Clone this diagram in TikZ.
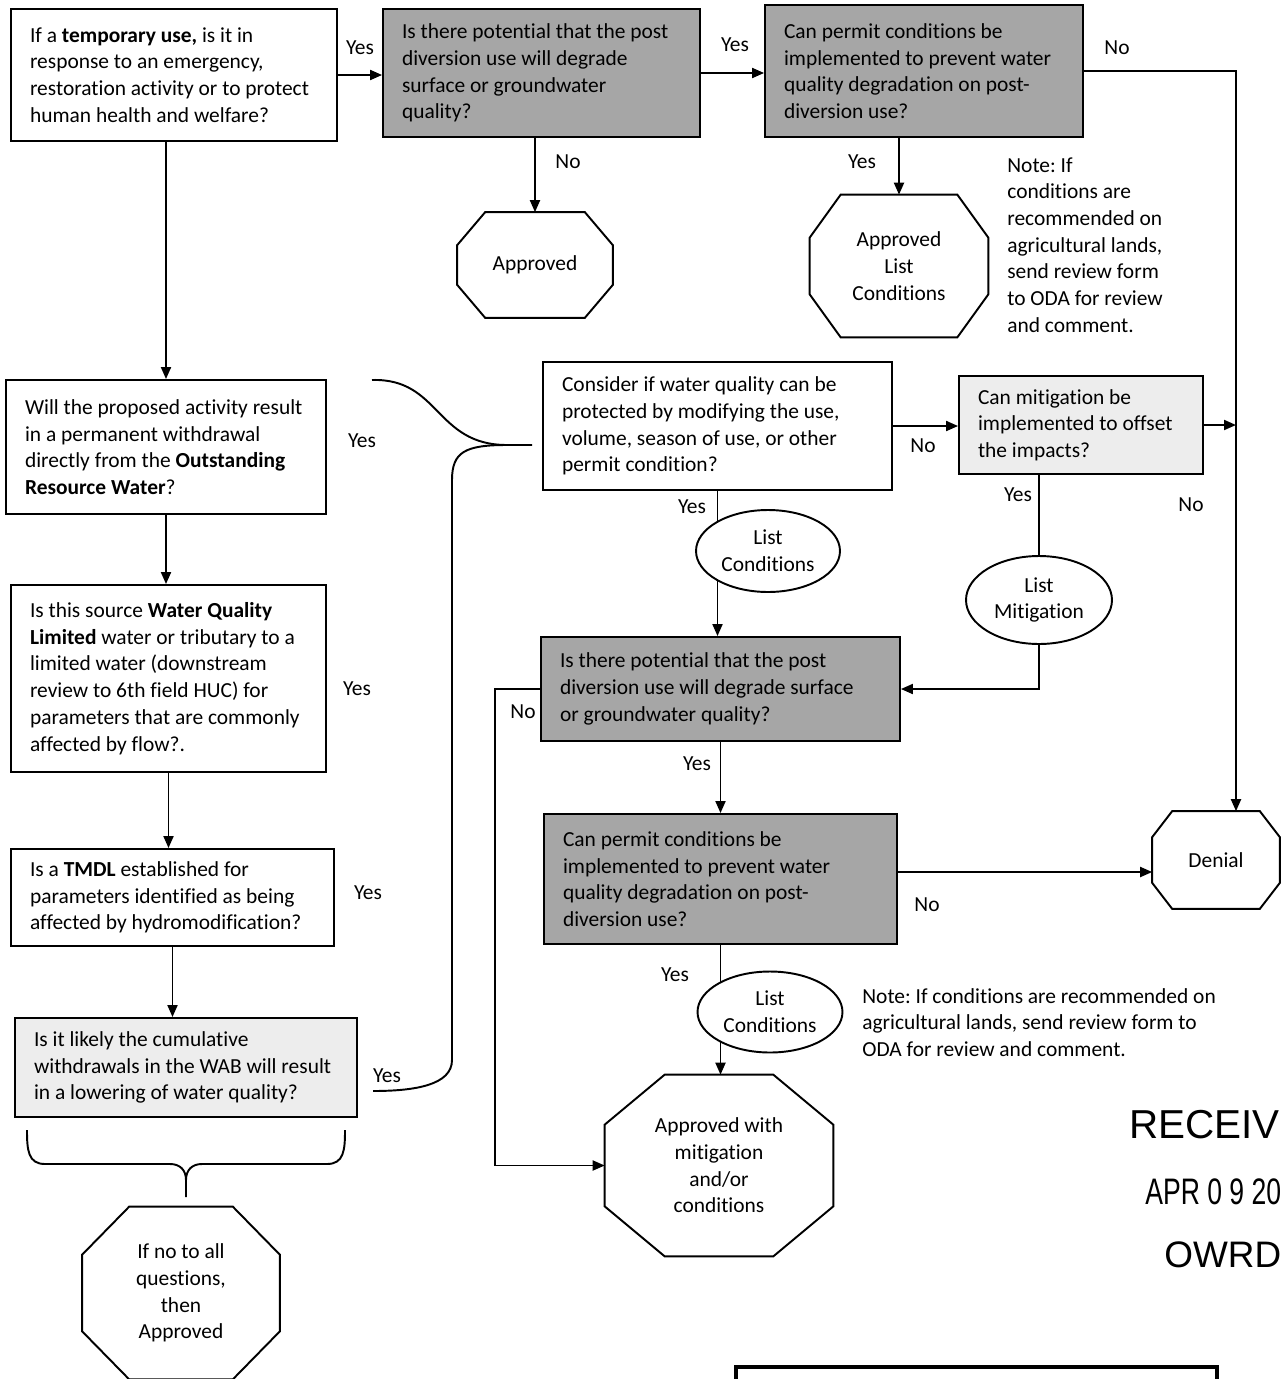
\documentclass[tikz,border=0pt]{standalone}
\usepackage{fontspec}
\setmainfont{Carlito}[Ligatures=NoCommon]
\newfontfamily\stampfont{Liberation Sans}
\usetikzlibrary{arrows.meta,backgrounds,shapes.geometric}
\frenchspacing

\tikzset{
  qbox/.style={draw, line width=1.1pt, fill=white, align=flush left, inner xsep=0.38cm, inner ysep=0pt},
  darkbox/.style={qbox, fill=black!35},
  litebox/.style={qbox, fill=black!7},
  endbox/.style={align=center, inner sep=0pt},
  listell/.style={draw, ellipse, line width=1.1pt, fill=white, align=center, inner sep=0pt},
  arr/.style={line width=1.1pt, -{Triangle[length=0.24cm,width=0.2cm]}},
  lbl/.style={inner sep=0pt},
}
% octagon round a named node: node, cut x, cut y
\newcommand\octbox[3]{\draw[line width=1.1pt] ([xshift=#2]#1.north west) -- ([xshift=-#2]#1.north east) -- ([yshift=-#3]#1.north east) -- ([yshift=#3]#1.south east) -- ([xshift=-#2]#1.south east) -- ([xshift=#2]#1.south west) -- ([yshift=#3]#1.south west) -- ([yshift=-#3]#1.north west) -- cycle;}

\begin{document}
\begin{tikzpicture}[x=0.02cm, y=-0.02cm, font=\fontsize{12.2}{15.2}\selectfont]
	\useasboundingbox (0,0) rectangle (1283,1379);
	\clip (0,0) rectangle (1283,1379);
	%%%%% question boxes %%%%%
	\node[qbox, text width=5.76cm, minimum height=2.64cm] (temp) at (174,75) {If a \textbf{temporary use,} is it in\\ response to an emergency,\\ restoration activity or to protect\\ human health and welfare?};
	\node[darkbox, text width=5.58cm, minimum height=2.56cm] (post) at (541.5,73) {Is there potential that the post\\ diversion use will degrade\\ surface or groundwater\\ quality?};
	\node[darkbox, text width=5.60cm, minimum height=2.64cm] (permit) at (924,71) {Can permit conditions be\\ implemented to prevent water\\ quality degradation on post-\\ diversion use?};
	
	\node[qbox, text width=5.64cm, minimum height=2.68cm] (orw) at (166,447) {Will the proposed activity result\\ in a permanent withdrawal\\ directly from the \textbf{Outstanding}\\ \textbf{Resource Water}?};
	\node[qbox, text width=5.54cm, minimum height=3.74cm] (wql) at (168.5,678.5) {Is this source \textbf{Water Quality}\\ \textbf{Limited} water or tributary to a\\ limited water (downstream\\ review to 6th field HUC) for\\ parameters that are commonly\\ affected by flow?.};
	\node[qbox, text width=5.70cm, minimum height=1.94cm] (tmdl) at (172.5,897.5) {Is a \textbf{TMDL} established for\\ parameters identified as being\\ affected by hydromodification?};
	\node[litebox, text width=6.08cm, minimum height=1.98cm] (wab) at (186,1067.5) {Is it likely the cumulative\\ withdrawals in the WAB will result\\ in a lowering of water quality?};
	
	\node[qbox, text width=6.22cm, minimum height=2.56cm] (modify) at (717.5,426) {Consider if water quality can be\\ protected by modifying the use,\\ volume, season of use, or other\\ permit condition?};
	\node[litebox, text width=4.12cm, minimum height=1.96cm] (mitig) at (1081,425) {Can mitigation be\\ implemented to offset\\ the impacts?};
	\node[darkbox, text width=6.42cm, minimum height=2.08cm] (degrade) at (720.5,689) {Is there potential that the post\\ diversion use will degrade surface\\ or groundwater quality?};
	\node[darkbox, text width=6.30cm, minimum height=2.60cm] (prevent) at (720.5,879) {Can permit conditions be\\ implemented to prevent water\\ quality degradation on post-\\ diversion use?};
	
	%%%%% end points %%%%%
	\node[endbox, minimum width=3.1cm, minimum height=2.1cm] (appr) at (535,265) {Approved};
	\octbox{appr}{0.56cm}{0.66cm}
	\node[endbox, minimum width=3.56cm, minimum height=2.84cm] (apprlist) at (899,266) {Approved\\ List\\ Conditions};
	\octbox{apprlist}{0.62cm}{0.86cm}
	\node[endbox, minimum width=2.54cm, minimum height=1.94cm] (denial) at (1216,860) {Denial};
	\octbox{denial}{0.4cm}{0.52cm}
	\node[endbox, minimum width=4.56cm, minimum height=3.62cm] (apprmit) at (719,1165.5) {Approved with\\ mitigation\\ and/or\\ conditions};
	\octbox{apprmit}{1.2cm}{1.0cm}
	\node[endbox, minimum width=3.94cm, minimum height=3.44cm] (noall) at (181,1293) {If no to all\\ questions,\\ then\\ Approved};
	\octbox{noall}{0.94cm}{0.96cm}
	
	\node[listell, minimum width=2.88cm, minimum height=1.64cm] (listcond) at (768,551) {List\\ Conditions};
	\node[listell, minimum width=2.92cm, minimum height=1.76cm] (listmit) at (1039,600) {List\\ Mitigation};
	\node[listell, minimum width=2.9cm, minimum height=1.62cm] (listcond2) at (770,1012) {List\\ Conditions};
	
	%%%%% notes %%%%%
	\node[lbl, anchor=north west, align=left] (note1) at (1007,157) {Note: If\\ conditions are\\ recommended on\\ agricultural lands,\\ send review form\\ to ODA for review\\ and comment.};
	\node[lbl, anchor=north west, align=left] (note2) at (862,988) {Note: If conditions are recommended on\\ agricultural lands, send review form to\\ ODA for review and comment.};
	
	%%%%% connectors %%%%%
	\coordinate (rail) at (1236,71);
	\coordinate (tip) at (532,445);
	\draw[arr] (temp.east) -- (temp.east -| post.west);
	\draw[arr] (post.east) -- (post.east -| permit.west);
	\draw[arr] (permit.east) -- (permit.east -| rail) -- (rail |- denial.north);
	\draw[arr] (post.south -| appr.north) -- (appr.north);
	\draw[arr] (permit.south -| apprlist.north) -- (apprlist.north);
	\draw[arr] (temp.south -| orw.north) -- (orw.north);
	\draw[arr] (orw.south) -- (orw.south |- wql.north);
	\draw[arr] (wql.south) -- (wql.south |- tmdl.north);
	\draw[arr] (tmdl.south) -- (tmdl.south |- wab.north);
	\draw[arr] (modify.east) -- (modify.east -| mitig.west);
	\draw[arr] (mitig.east) -- (mitig.east -| rail);
	\draw[line width=1.1pt] (mitig.south -| listmit.north) -- (listmit.north);
	\draw[arr] (listmit.south) |- (degrade.east);
	\draw[arr] (degrade.west) -- ++(-45,0) |- (apprmit.west);
	\draw[arr] (degrade.south) -- (degrade.south |- prevent.north);
	\draw[arr] ([yshift=0.14cm]prevent.east) -- ([yshift=0.14cm]prevent.east -| denial.west);
	\begin{pgfonlayer}{background}
		\draw[arr] (modify.south) -- (modify.south |- degrade.north);
		\draw[arr] (prevent.south) -- (prevent.south |- apprmit.north);
	\end{pgfonlayer}
	
	% big brace for the yes answers on the left
	\draw[line width=1.1pt] (372,380) .. controls (440,378) and (435,445) .. (507,445) -- (tip);
	\draw[line width=1.1pt] (507,445) .. controls (465,445) and (452,452) .. (452,480) -- (452,1060) .. controls (452,1085) and (415,1091) .. (373,1091);
	% brace under the left column
	\draw[line width=1.1pt] (27,1130) .. controls (27,1150) and (28,1164) .. (45,1164) -- (170,1164) .. controls (180,1164) and (186,1170) .. (186,1180) -- (186,1197);
	\draw[line width=1.1pt] (345,1130) .. controls (345,1150) and (344,1164) .. (327,1164) -- (202,1164) .. controls (192,1164) and (186,1170) .. (186,1180);
	
	%%%%% labels %%%%%
	\node[lbl] (y1) at (360,48) {Yes};
	\node[lbl] (y2) at (735,45) {Yes};
	\node[lbl] (n1) at (1117,48) {No};
	\node[lbl] (n2) at (568,162) {No};
	\node[lbl] (y3) at (862,162) {Yes};
	\node[lbl] (y4) at (362,441) {Yes};
	\node[lbl] (y5) at (357,689) {Yes};
	\node[lbl] (y6) at (368,893) {Yes};
	\node[lbl] (y7) at (387,1076) {Yes};
	\node[lbl] (n3) at (923,446) {No};
	\node[lbl] (n4) at (1191,505) {No};
	\node[lbl] (y8) at (1018,495) {Yes};
	\node[lbl] (y9) at (692,507) {Yes};
	\node[lbl] (n5) at (523,712) {No};
	\node[lbl] (y10) at (697,764) {Yes};
	\node[lbl] (n6) at (927,905) {No};
	\node[lbl] (y11) at (675,975) {Yes};
	
	%%%%% stamp %%%%%
	\node[lbl, anchor=base west, font=\stampfont\fontsize{23}{23}\selectfont] (rcv) at (1129,1138) {RECEIV};
	\node[lbl, anchor=base west, font=\stampfont\fontsize{21}{21}\selectfont] (apr) at (1145,1204) {\scalebox{0.72}[1]{APR 0 9 20}};
	\node[lbl, anchor=base west, font=\stampfont\fontsize{21}{21}\selectfont] (owrd) at (1164,1267) {OWRD};
	\draw[line width=2.2pt] (736,1400) |- (1217,1367) -- (1217,1400);
\end{tikzpicture}
\end{document}
